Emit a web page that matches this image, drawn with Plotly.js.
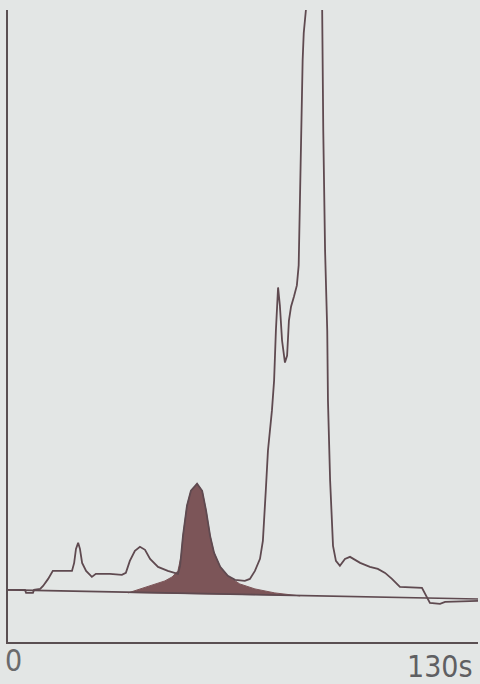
<!DOCTYPE html>
<html>
<head>
<meta charset="utf-8">
<script src="https://cdn.plot.ly/plotly-3.0.1.min.js"></script>
<style>
html,body{margin:0;padding:0;background:#e3e6e5;}
#chart{width:480px;height:684px;}
</style>
</head>
<body>
<div id="chart"></div>
<script>
// Chromatogram signal (time in s, signal in arbitrary units)
var traceTime = [0,4.7,5.0,6.9,7.2,8.9,9.7,11.1,12.4,17.7,18.3,18.8,19.4,19.9,20.5,21.6,23.2,24.3,28.2,31.5,32.6,33.7,35.1,36.5,37.9,39.3,41.5,44.2,47.0,47.6,48.4,49.5,50.6,52.3,53.7,54.8,55.9,57.0,58.7,60.8,62.8,65.5,66.9,68.3,69.7,70.5,71.3,71.9,73.0,73.6,74.1,74.4,74.7,75.2,75.8,76.6,77.2,77.7,78.3,79.1,79.9,80.4,80.7,81.0,81.5,81.8,82.4,84.6,86.9,87.2,87.7,88.3,88.5,89.1,89.9,90.7,91.8,93.2,94.6,97.4,100.1,102.3,104.3,106.2,108.4,114.5,115.6,116.7,119.5,120.9,130];
var traceSignal = [1,1,-2,-2,1,2,5,12,20,20,28,42,48,42,28,20,14,17,17,16,18,30,40,44,41,32,24,20,17,25,55,85,100,107,100,80,55,38,24,15,11,10,12,20,32,50,100,140,180,210,260,290,303,285,250,228,235,270,284,294,305,325,390,438,530,557,580,800,580,460,340,260,190,110,45,30,25,32,34,28,24,22,18,12,4,3,-5,-12,-13,-11,-10];

// Shaded (integrated) peak
var peakTime = [33.2,39.3,43.4,45.4,47.0,47.9,48.4,49.5,50.6,52.3,53.7,54.8,55.9,57.0,58.7,60.8,64.1,68.3,73.8,80.8];
var peakSignal = [-2,5,10,14,20,35,55,85,100,107,100,80,55,38,24,15,7,2,-2,-5];

// Integration baseline
var baseTime = [0,130];
var baseSignal = [1,-8];

var tickLabels = ['0','130s'];
var tickPositions = [0,130];

var lineColor = '#5f4a50';

var traces = [
  {x: peakTime, y: peakSignal, type:'scatter', mode:'lines', fill:'toself',
   fillcolor:'#7c5558', line:{color:'#7c5558', width:1}, hoverinfo:'skip'},
  {x: baseTime, y: baseSignal, type:'scatter', mode:'lines',
   line:{color:lineColor, width:1.6}, hoverinfo:'skip'},
  {x: traceTime, y: traceSignal, type:'scatter', mode:'lines',
   line:{color:lineColor, width:1.8, shape:'linear'}, hoverinfo:'skip'}
];

var fontFam = '"Liberation Sans Narrow", "DejaVu Sans Condensed", "Liberation Sans", sans-serif';

var layout = {
  width:480, height:684,
  margin:{l:8, r:2, t:10, b:42},
  paper_bgcolor:'#e3e6e5', plot_bgcolor:'#e3e6e5',
  showlegend:false,
  xaxis:{range:[0,130], showgrid:false, zeroline:false, showticklabels:false, ticks:'',
         showline:true, linecolor:'#5a4f52', linewidth:2, fixedrange:true},
  yaxis:{range:[-51,580], showgrid:false, zeroline:false, showticklabels:false, ticks:'',
         showline:true, linecolor:'#5a4f52', linewidth:2, fixedrange:true},
  annotations:[
    {x:tickPositions[0], xref:'x', y:-0.03, yref:'paper', text:tickLabels[0], showarrow:false,
     xanchor:'left', yanchor:'middle', xshift:-5, font:{family:fontFam, size:30, color:'#6a6a6c', stretch:'condensed'}},
    {x:tickPositions[1], xref:'x', y:-0.038, yref:'paper', text:tickLabels[1], showarrow:false,
     xanchor:'right', yanchor:'middle', xshift:-3, font:{family:fontFam, size:30, color:'#5f5f62', stretch:'condensed'}}
  ]
};

Plotly.newPlot('chart', traces, layout, {staticPlot:true, displayModeBar:false});
</script>
</body>
</html>
